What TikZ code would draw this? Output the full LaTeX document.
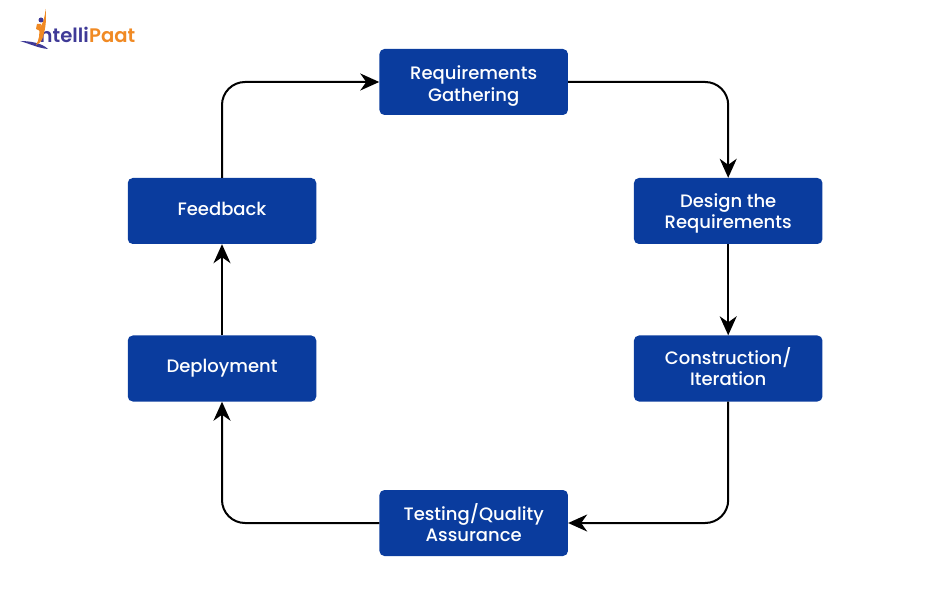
\documentclass[tikz,border=0pt]{standalone}
\usepackage{fontspec}
\setmainfont{Poppins}
\newfontfamily\boxfont{Poppins Medium}
\usetikzlibrary{arrows.meta}
\definecolor{boxblue}{HTML}{0A3C9E}
\definecolor{logoblue}{HTML}{3F3A97}
\definecolor{logoorange}{HTML}{F08A24}
\newcommand{\nudged}[2]{\raisebox{#1}[\height][\depth]{\begin{tabular}{@{}c@{}}#2\end{tabular}}}
\tikzset{
  stepbox/.style={draw=none,fill=boxblue,rounded corners=5pt,minimum width=188.5pt,minimum height=66pt,inner sep=0pt,
    text=white,align=center,font=\boxfont\fontsize{18}{21.5}\selectfont},
  flow/.style={draw=black,line width=2pt,rounded corners=23pt,-{Stealth[length=19pt,width=17pt,inset=6pt]}},
  straight/.style={draw=black,line width=2pt,-{Stealth[length=19pt,width=17pt,inset=6pt]}},
  logotext/.style={inner sep=0pt,anchor=base west,font=\fontspec{Poppins SemiBold}\fontsize{19.6}{20}\selectfont}
}
\begin{document}
\begin{tikzpicture}[x=1pt,y=-1pt]
\useasboundingbox (0,0) rectangle (950,601);
\node[stepbox] (req) at (473.7,82) {\nudged{-4pt}{Requirements\\Gathering}};
\node[stepbox] (des) at (728.2,211) {\nudged{-2.5pt}{Design the\\Requirements}};
\node[stepbox] (con) at (728.2,368.5) {\nudged{-1pt}{Construction/\\Iteration}};
\node[stepbox] (tes) at (473.7,523) {\nudged{-2.5pt}{Testing/Quality\\Assurance}};
\node[stepbox] (dep) at (222,368.5) {\nudged{0pt}{Deployment}};
\node[stepbox] (fee) at (222,211) {\nudged{0pt}{Feedback}};
\draw[flow] (req.east) -| (des.north);
\draw[straight] (des.south) -- (con.north);
\draw[flow] (con.south) |- (tes.east);
\draw[flow] (tes.west) -| (dep.south);
\draw[straight] (dep.north) -- (fee.south);
\draw[flow] (fee.north) |- (req.west);
% logo
\node[logotext,text=logoblue] (lt1) at (39.5,42.5) {ntelli};
\node[logotext,text=logoorange] (lt2) at (lt1.base east) {Paat};
\fill[logoblue] (20,41) .. controls (30,41) and (42,43) .. (48,49) .. controls (38,48) and (30,44) .. (20,41) -- cycle;
\fill[logoorange] (45.5,9) .. controls (46.5,16) and (46,26) .. (44,33) .. controls (43,39) and (41,43) .. (36,45) .. controls (39,40) and (40,34) .. (39,28) .. controls (42,26) and (45,18) .. (45.5,9) -- cycle;
\fill[logoorange] (37,24) -- (41,24) -- (40,31) -- (36,29) -- cycle;
\fill[logoblue] (41,20) circle (2.5pt);
\end{tikzpicture}
\end{document}
